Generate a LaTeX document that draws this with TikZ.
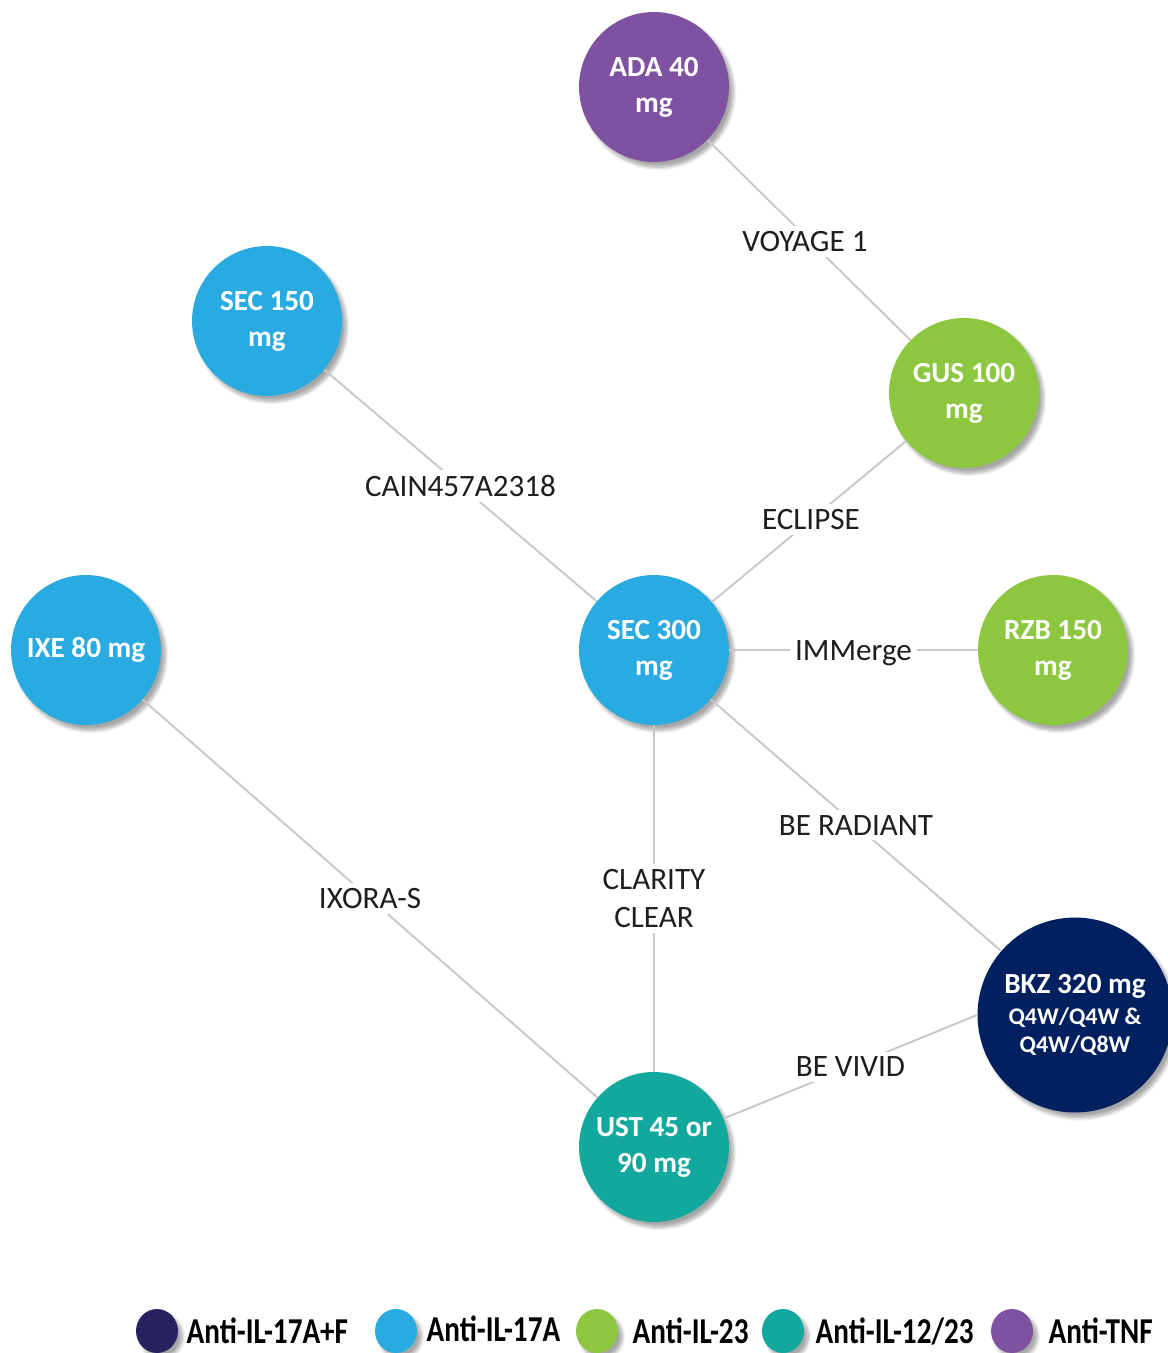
\documentclass[tikz,border=0pt]{standalone}
\usepackage{fontspec}
\setmainfont{Carlito}
\usepackage{graphicx}
\usetikzlibrary{positioning,shapes.geometric,shadows.blur}
\definecolor{figedge}{RGB}{200,200,200}
\definecolor{figtext}{RGB}{30,30,30}
\definecolor{figtnf}{RGB}{127,82,161}
\definecolor{figsec}{RGB}{41,171,226}
\definecolor{figgrn}{RGB}{141,198,63}
\definecolor{figust}{RGB}{19,168,158}
\definecolor{figbkz}{RGB}{0,32,96}
\definecolor{figaf}{RGB}{38,34,98}
\tikzset{
  shd/.style  ={blur shadow={shadow xshift=2.5pt, shadow yshift=-3pt, shadow blur steps=10, shadow opacity=35}},
  drug/.style ={circle, shd, minimum size=3cm, inner sep=0pt, text=white, align=center,
                font=\fontsize{16.6}{20.4}\selectfont\bfseries},
  drugl/.style={drug, minimum size=3.9cm, font=\fontsize{16.6}{16}\selectfont\bfseries},
  edge/.style ={draw=figedge, line width=1.1pt},
  trial/.style={fill=white, text=figtext, inner sep=3pt, align=center,
                font=\fontsize{17.7}{21.5}\selectfont},
  key/.style  ={ellipse, shd, minimum width=0.84cm, minimum height=0.88cm, inner sep=0pt},
  keyt/.style ={text=black, inner sep=0pt, font=\fontsize{16.6}{18}\selectfont\bfseries},
}

\begin{document}
\begin{tikzpicture}[x=0.02cm,y=-0.02cm]
  \useasboundingbox (0,0) rectangle (1168,1353);
  % drugs
  \node[drug,fill=figtnf] (ada) at (654,87) {ADA 40\\mg};
  \node[drug,fill=figsec] (sec150) at (267,321) {SEC 150\\mg};
  \node[drug,fill=figgrn] (gus) at (964,393) {GUS 100\\mg};
  \node[drug,fill=figsec] (ixe) at (86,650) {IXE 80 mg};
  \node[drug,fill=figsec] (sec300) at (654,650) {SEC 300\\mg};
  \node[drug,fill=figgrn] (rzb) at (1053,650) {RZB 150\\mg};
  \node[drugl,fill=figbkz] (bkz) at (1075,1015)
    {BKZ 320 mg\\[2pt]{\fontsize{13.6}{16}\selectfont Q4W/Q4W \&}\\{\fontsize{13.6}{16}\selectfont Q4W/Q8W}};
  \node[drug,fill=figust] (ust) at (654,1147) {UST 45 or\\90 mg};
  % trials
  \draw[edge] (ada) -- node[trial,pos=0.48,yshift=-3pt] {VOYAGE 1} (gus);
  \draw[edge] (sec150) -- node[trial] {CAIN457A2318} (sec300);
  \draw[edge] (gus) -- node[trial,pos=0.49] {ECLIPSE} (sec300);
  \draw[edge] (sec300) -- node[trial,yshift=-2pt] {IMMerge} (rzb);
  \draw[edge] (sec300) -- node[trial] {BE RADIANT} (bkz);
  \draw[edge] (sec300) -- node[trial] {CLARITY\\CLEAR} (ust);
  \draw[edge] (ixe) -- node[trial] {IXORA-S} (ust);
  \draw[edge] (bkz.west) -- node[trial] {BE VIVID} (ust);
  % legend
  \node[key,fill=figaf] (k1) at (157,1331) {};
  \node[keyt,right=0.16cm of k1] (t1) {\scalebox{1}[1.25]{Anti-IL-17A+F}};
  \node[key,fill=figsec] (k2) at (396,1331) {};
  \node[keyt,right=0.18cm of k2,yshift=1.5pt] (t2) {\scalebox{1}[1.25]{Anti-IL-17A}};
  \node[key,fill=figgrn] (k3) at (597,1331) {};
  \node[keyt,right=0.28cm of k3] (t3) {\scalebox{1}[1.25]{Anti-IL-23}};
  \node[key,fill=figust] (k4) at (783,1331) {};
  \node[keyt,right=0.22cm of k4] (t4) {\scalebox{1}[1.25]{Anti-IL-12/23}};
  \node[key,fill=figtnf] (k5) at (1012,1331) {};
  \node[keyt,right=0.3cm of k5] (t5) {\scalebox{1}[1.25]{Anti-TNF}};
\end{tikzpicture}
\end{document}
